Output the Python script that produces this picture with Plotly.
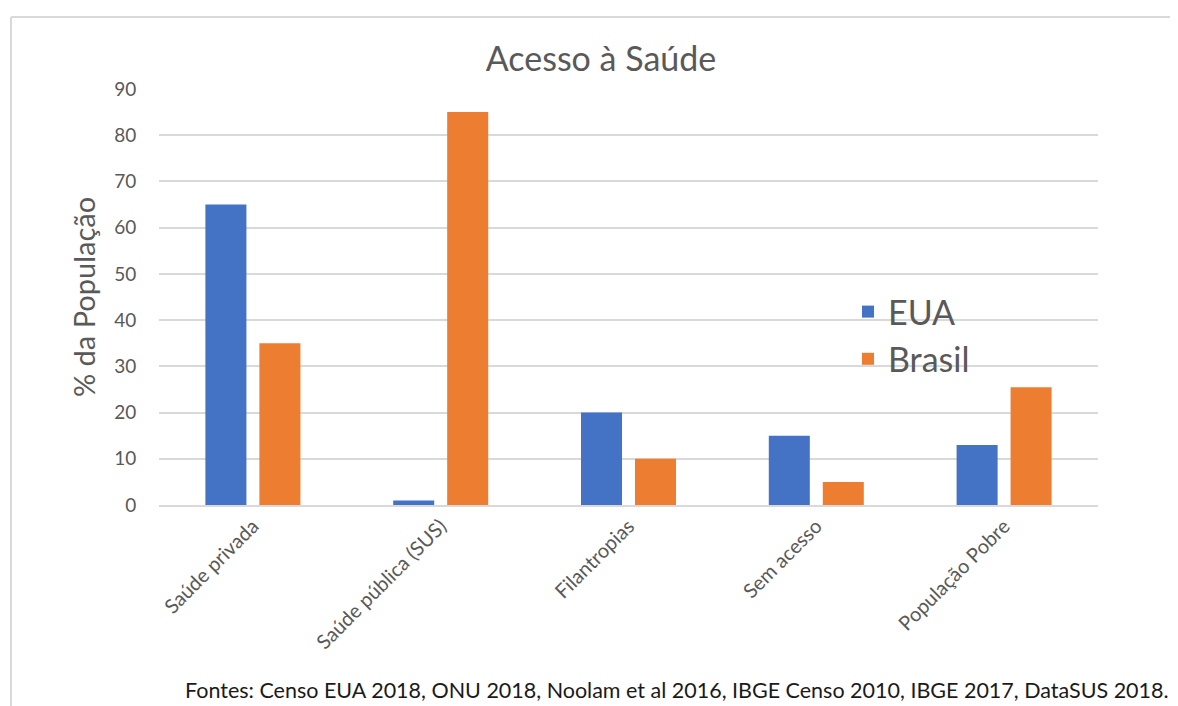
import plotly.graph_objects as go

categories = ["Saúde privada", "Saúde pública (SUS)", "Filantropias", "Sem acesso", "População Pobre"]
eua = [65, 1, 20, 15, 13]
brasil = [35, 85, 10, 5, 25.5]
y_ticks = [0, 10, 20, 30, 40, 50, 60, 70, 80, 90]

# page body offset of the browser (8px default margin)
OFF = 8
W, H = 1178 - OFF, 706 - OFF
L, T = 159 - OFF, 89 - OFF
PR, PB = 1098 - OFF, 505 - OFF
R, B = W - PR, H - PB
pw, ph = PR - L, PB - T

def px(x):
    return (x - OFF - L) / pw

def py(y):
    return (PB - (y - OFF)) / ph

FONT = "Lato"
GRAY = "#595959"

fig = go.Figure()
fig.add_trace(go.Bar(name="EUA", x=categories, y=eua, marker=dict(color="#4472C4", line=dict(width=0)),
                     legendgroup="a"))
fig.add_trace(go.Bar(name="Brasil", x=categories, y=brasil, marker=dict(color="#ED7D31", line=dict(width=0)),
                     legendgroup="b"))

fig.update_layout(
    width=W, height=H,
    margin=dict(l=L, r=R, t=T, b=B, autoexpand=False),
    paper_bgcolor="white", plot_bgcolor="white",
    barmode="group", bargap=0.425, bargroupgap=0.24,
    font=dict(family=FONT, color=GRAY),
    title=dict(text="Acesso à Saúde", x=px(601), xanchor="center", xref="paper",
               y=1 - (59 - OFF) / H, yanchor="middle", font=dict(size=34, color=GRAY, family=FONT)),
    legend=dict(x=px(848), y=py(283), xanchor="left", yanchor="top",
                bgcolor="rgba(0,0,0,0)", font=dict(size=34, color=GRAY, family=FONT),
                tracegroupgap=2, traceorder="normal"),
    showlegend=True,
)
fig.update_xaxes(tickangle=-45, tickfont=dict(size=20, color=GRAY, family=FONT),
                 showline=True, linecolor="#D9D9D9", linewidth=1.5, showgrid=False,
                 ticks="", fixedrange=True)
fig.update_yaxes(range=[0, 90], tickvals=y_ticks, tickfont=dict(size=19, color=GRAY, family=FONT),
                 showgrid=True, gridcolor="#D9D9D9", gridwidth=1.5, zeroline=False,
                 ticks="outside", ticklen=18, tickcolor="rgba(0,0,0,0)",
                 title=dict(text="% da População", font=dict(size=29, color=GRAY, family=FONT), standoff=10))

# chart frame (top and left edges visible)
fig.add_shape(type="line", xref="paper", yref="paper", x0=px(11), x1=px(1190), y0=py(17), y1=py(17),
              line=dict(color="#D9D9D9", width=2))
fig.add_shape(type="line", xref="paper", yref="paper", x0=px(11), x1=px(11), y0=py(17), y1=py(720),
              line=dict(color="#D9D9D9", width=2))

fig.add_annotation(text="Fontes: Censo EUA 2018, ONU 2018, Noolam et al 2016, IBGE Censo 2010, IBGE 2017, DataSUS 2018.",
                   xref="paper", yref="paper", x=px(1171), y=py(690), xanchor="right", yanchor="middle",
                   showarrow=False, font=dict(size=21.5, color="#1a1a1a", family=FONT))

fig.write_html("out.html")
